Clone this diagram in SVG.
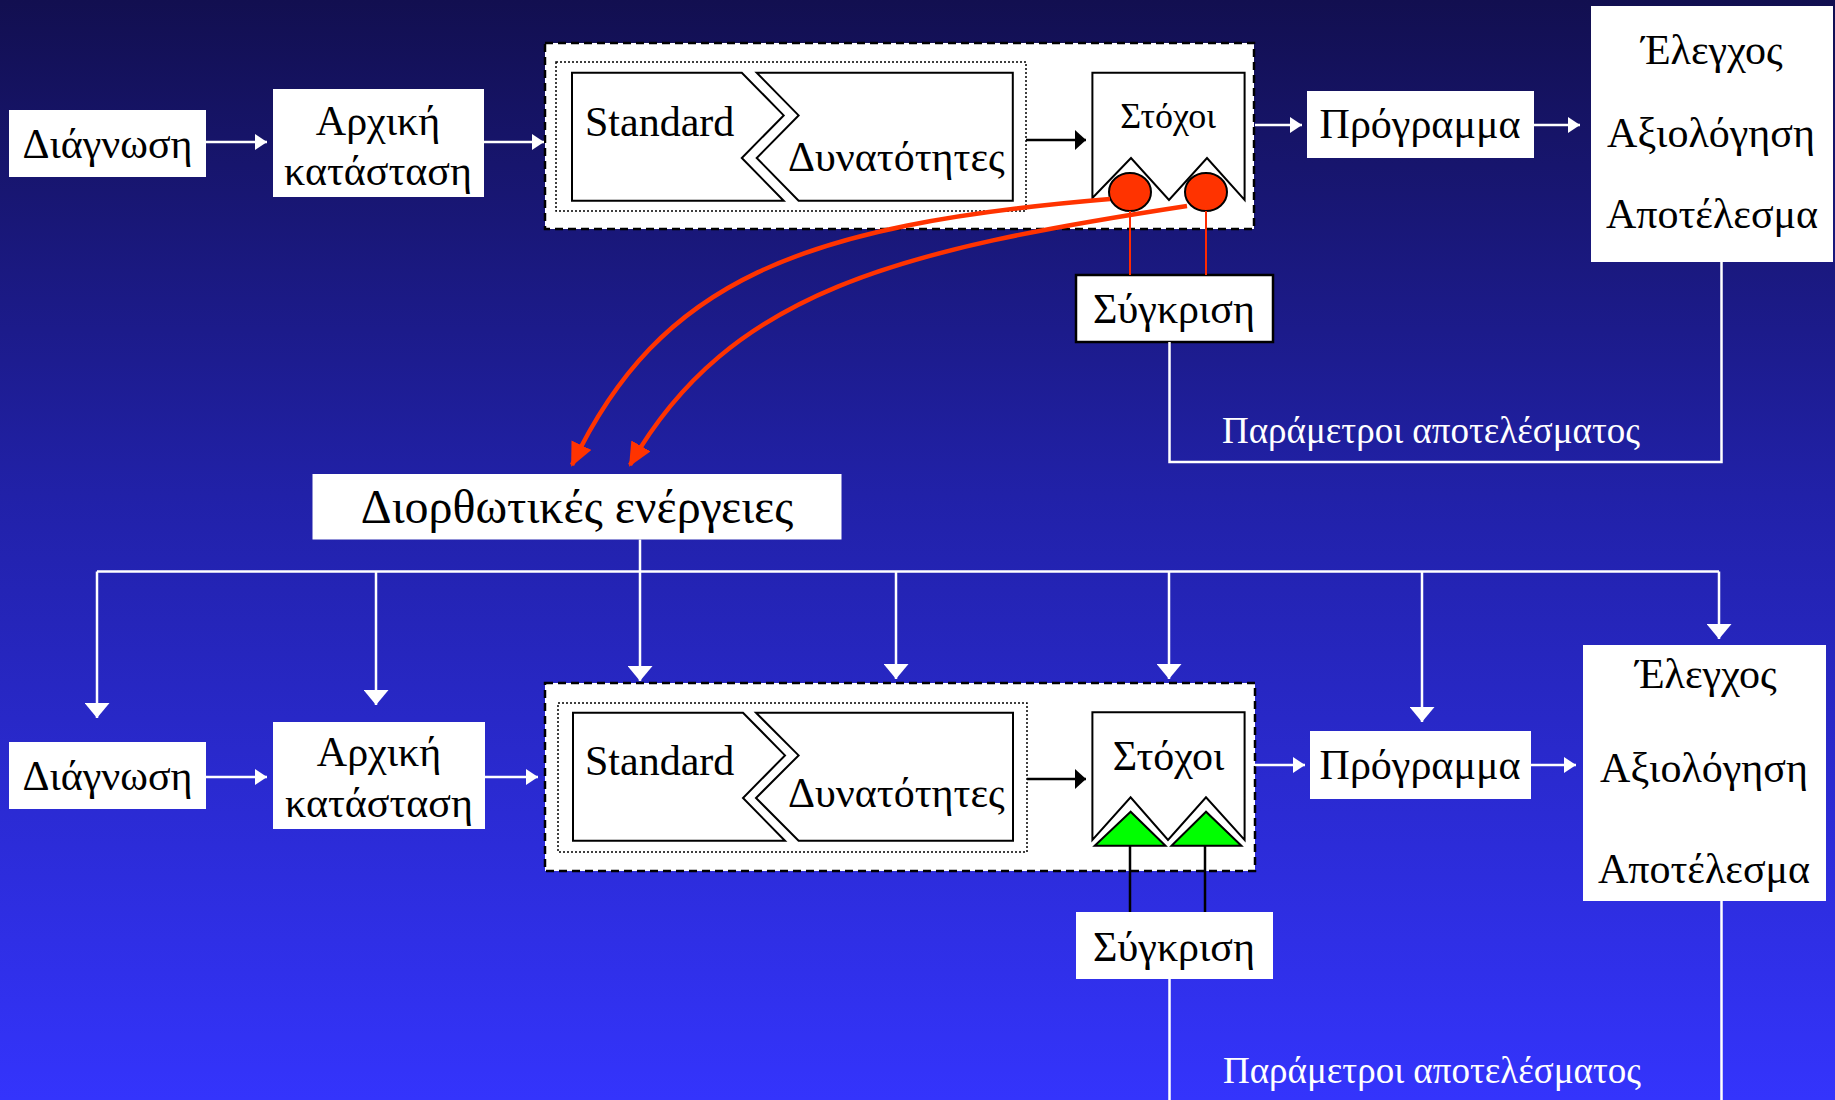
<svg xmlns="http://www.w3.org/2000/svg" width="1835" height="1100" viewBox="0 0 1835 1100">
<defs>
  <linearGradient id="bg" x1="0" y1="0" x2="0" y2="1">
    <stop offset="0" stop-color="#120f50"/>
    <stop offset="0.45" stop-color="#2121a8"/>
    <stop offset="1" stop-color="#3434fc"/>
  </linearGradient>
  <marker id="wa" markerUnits="userSpaceOnUse" markerWidth="12" markerHeight="16" refX="12" refY="8" orient="auto" viewBox="0 0 12 16">
    <path d="M0,0 L12,8 L0,16 Z" fill="#fff"/>
  </marker>
  <marker id="wd" markerUnits="userSpaceOnUse" markerWidth="15" markerHeight="25" refX="15" refY="12.5" orient="auto" viewBox="0 0 15 25">
    <path d="M0,0 L15,12.5 L0,25 Z" fill="#fff"/>
  </marker>
  <marker id="ba" markerUnits="userSpaceOnUse" markerWidth="11" markerHeight="20" refX="11" refY="10" orient="auto" viewBox="0 0 11 20">
    <path d="M0,0 L11,10 L0,20 Z" fill="#000"/>
  </marker>
  <marker id="ra" markerUnits="userSpaceOnUse" markerWidth="24" markerHeight="22" refX="22" refY="11" orient="auto" viewBox="0 0 24 22">
    <path d="M0,0 L24,11 L0,22 Z" fill="#ff3300"/>
  </marker>
</defs>
<style>
  text { font-family: "Liberation Serif", "Times New Roman", serif; fill: #000; }
  .box { fill: #fff; }
  .sbox { fill: #fff; stroke: #000; stroke-width: 2.5; }
  .dash { fill: #fff; stroke: #000; stroke-width: 2.5; stroke-dasharray: 8 5; }
  .dot { fill: none; stroke: #000; stroke-width: 1.5; stroke-dasharray: 2 2; }
  .shape { fill: #fff; stroke: #000; stroke-width: 2; }
  .w { stroke: #fff; stroke-width: 2.5; fill: none; }
  .k { stroke: #000; stroke-width: 2.5; fill: none; }
  .rthin { stroke: #ff2a00; stroke-width: 2; fill: none; }
  .rc { stroke: #ff3300; stroke-width: 4.5; fill: none; }
  .lbl { font-size: 42px; }
  .c { text-anchor: middle; }
  .par { font-size: 37px; fill: #fff; }
</style>
<rect x="0" y="0" width="1835" height="1100" fill="url(#bg)"/>

<!-- ============ TOP ROW ============ -->
<g id="diagnosi1">
  <rect class="box" x="9" y="110" width="197" height="67"/>
  <text class="lbl c" x="107.5" y="158">Διάγνωση</text>
</g>
<g id="arxiki1">
  <rect class="box" x="273" y="89" width="211" height="108"/>
  <text class="lbl c" x="378" y="135" font-size="43">Αρχική</text>
  <text class="lbl c" x="378" y="185" font-size="43">κατάσταση</text>
</g>
<g id="group1">
  <rect class="dash" x="545" y="43" width="709" height="186"/>
  <rect class="dot" x="556" y="62" width="470" height="149"/>
  <path class="shape" d="M572,72.7 L741.8,72.7 L783.7,115.4 L741.8,158 L783.7,200.7 L572,200.7 Z"/>
  <text class="lbl" x="585" y="136" font-size="43">Standard</text>
  <path class="shape" d="M756.7,72.7 L1012.8,72.7 L1012.8,200.7 L798.6,200.7 L756.7,158 L798.6,115.4 Z"/>
  <text class="lbl" x="788" y="171">Δυνατότητες</text>
</g>
<g id="stoxoi1">
  <path class="shape" d="M1092.4,198 L1092.4,72.7 L1244.6,72.7 L1244.6,200 L1207,158 L1169,200 L1131,158 Z"/>
  <text class="c" x="1168" y="128" font-size="36">Στόχοι</text>
  <ellipse cx="1130" cy="192" rx="21" ry="19" fill="#ff3300" stroke="#000" stroke-width="2"/>
  <ellipse cx="1206" cy="192" rx="21" ry="19" fill="#ff3300" stroke="#000" stroke-width="2"/>
</g>
<g id="sygkrisi1">
  <rect class="sbox" x="1076" y="275" width="197" height="67"/>
  <text class="lbl c" x="1174" y="323">Σύγκριση</text>
</g>
<g id="programma1">
  <rect class="box" x="1307" y="91" width="227" height="67"/>
  <text class="lbl c" x="1420" y="138">Πρόγραμμα</text>
</g>
<g id="elegxos1">
  <rect class="box" x="1591" y="6" width="242" height="256"/>
  <text class="lbl c" x="1712" y="64">Έλεγχος</text>
  <text class="lbl c" x="1711" y="147">Αξιολόγηση</text>
  <text class="lbl c" x="1712" y="228">Αποτέλεσμα</text>
</g>
<g id="parametroi1">
  <text class="par" x="1222" y="443">Παράμετροι αποτελέσματος</text>
</g>
<g id="diorthotikes">
  <rect class="box" x="312.5" y="474" width="529" height="65.5"/>
  <text class="c" x="577" y="523" font-size="48">Διορθωτικές ενέργειες</text>
</g>

<!-- ============ BOTTOM ROW ============ -->
<g id="diagnosi2">
  <rect class="box" x="9" y="742" width="197" height="67"/>
  <text class="lbl c" x="107.5" y="790">Διάγνωση</text>
</g>
<g id="arxiki2">
  <rect class="box" x="273" y="722" width="212" height="107"/>
  <text class="lbl c" x="379" y="766" font-size="43">Αρχική</text>
  <text class="lbl c" x="379" y="817" font-size="43">κατάσταση</text>
</g>
<g id="group2">
  <rect class="dash" x="545" y="683" width="710" height="188"/>
  <rect class="dot" x="558" y="703" width="469" height="149"/>
  <path class="shape" d="M573,712.7 L743,712.7 L785,755.4 L743,798 L785,840.7 L573,840.7 Z"/>
  <text class="lbl" x="585" y="775" font-size="43">Standard</text>
  <path class="shape" d="M756,712.7 L1013,712.7 L1013,840.7 L798.6,840.7 L756,798 L798.6,755.4 Z"/>
  <text class="lbl" x="788" y="807">Δυνατότητες</text>
</g>
<g id="stoxoi2">
  <path class="shape" d="M1092.4,840 L1092.4,712.3 L1244.6,712.3 L1244.6,840 L1206,797.3 L1168,840 L1130.6,797.3 Z"/>
  <text class="lbl c" x="1168.5" y="770">Στόχοι</text>
  <polygon points="1130.6,811.7 1094.7,845.7 1165.5,845.7" fill="#00ff00" stroke="#000" stroke-width="2"/>
  <polygon points="1206,811.7 1171.5,845.7 1241.4,845.7" fill="#00ff00" stroke="#000" stroke-width="2"/>
</g>
<g id="sygkrisi2">
  <rect class="box" x="1076" y="912" width="197" height="67"/>
  <text class="lbl c" x="1174" y="961">Σύγκριση</text>
</g>
<g id="programma2">
  <rect class="box" x="1310" y="731" width="221" height="68"/>
  <text class="lbl c" x="1420" y="779">Πρόγραμμα</text>
</g>
<g id="elegxos2">
  <rect class="box" x="1583" y="645" width="243" height="256"/>
  <text class="lbl c" x="1706" y="688">Έλεγχος</text>
  <text class="lbl c" x="1704" y="782">Αξιολόγηση</text>
  <text class="lbl c" x="1704" y="883">Αποτέλεσμα</text>
</g>
<g id="parametroi2">
  <text class="par" x="1223" y="1083">Παράμετροι αποτελέσματος</text>
</g>

<!-- ============ CONNECTORS ============ -->
<g id="connectors">
  <!-- top row -->
  <path class="w" d="M206,142 L267,142" marker-end="url(#wa)"/>
  <path class="w" d="M484,142 L544,142" marker-end="url(#wa)"/>
  <path class="k" d="M1026,140 L1086,140" marker-end="url(#ba)"/>
  <path class="w" d="M1255,125 L1302,125" marker-end="url(#wa)"/>
  <path class="w" d="M1534,125 L1580,125" marker-end="url(#wa)"/>
  <path class="rthin" d="M1130,211 L1130,275"/>
  <path class="rthin" d="M1206,211 L1206,275"/>
  <path class="w" d="M1721.5,262 L1721.5,462 L1169.5,462 L1169.5,342"/>
  <path class="rc" d="M1110,199 C800,225 660,280 572,465" marker-end="url(#ra)"/>
  <path class="rc" d="M1187,206 C900,250 730,290 630,465" marker-end="url(#ra)"/>
  <!-- distribution -->
  <path class="w" d="M640,539.5 L640,681" marker-end="url(#wd)"/>
  <path class="w" d="M97,571.5 L1719,571.5"/>
  <path class="w" d="M97,571.5 L97,718" marker-end="url(#wd)"/>
  <path class="w" d="M376,571.5 L376,705" marker-end="url(#wd)"/>
  <path class="w" d="M896,571.5 L896,679" marker-end="url(#wd)"/>
  <path class="w" d="M1169,571.5 L1169,679" marker-end="url(#wd)"/>
  <path class="w" d="M1422,571.5 L1422,722" marker-end="url(#wd)"/>
  <path class="w" d="M1719,571.5 L1719,639" marker-end="url(#wd)"/>
  <!-- bottom row -->
  <path class="w" d="M206,777 L267,777" marker-end="url(#wa)"/>
  <path class="w" d="M485,777 L538,777" marker-end="url(#wa)"/>
  <path class="k" d="M1027,779 L1086,779" marker-end="url(#ba)"/>
  <path class="w" d="M1255,765 L1305,765" marker-end="url(#wa)"/>
  <path class="w" d="M1531,765 L1576,765" marker-end="url(#wa)"/>
  <path class="k" d="M1130,846 L1130,912"/>
  <path class="k" d="M1205,846 L1205,912"/>
  <path class="w" d="M1169.5,979 L1169.5,1100"/>
  <path class="w" d="M1721.5,901 L1721.5,1100"/>
</g>
</svg>
